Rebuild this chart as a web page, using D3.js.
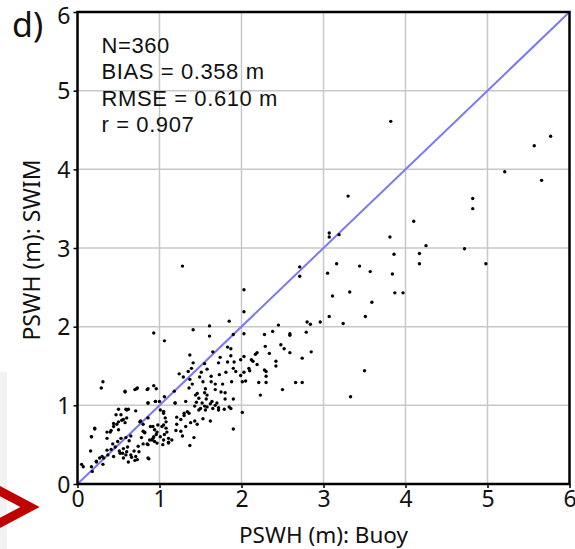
<!DOCTYPE html>
<html>
<head>
<meta charset="utf-8">
<script src="https://cdn.jsdelivr.net/npm/d3@7"></script>
<style>
  body { margin: 0; background: #fff; }
  text { font-family: "Comic Sans MS", "Noto Sans", sans-serif; fill: #111; }
  text.stat { font-family: "Comic Sans MS", "Liberation Sans", sans-serif; }
</style>
</head>
<body>
<div id="chart"></div>
<script>
var svgWidth = 575;
var svgHeight = 549;

// Plot frame in pixels
var margin = { top: 12, right: 5.5, bottom: 65, left: 77.5 };
var width = svgWidth - margin.left - margin.right;
var height = svgHeight - margin.top - margin.bottom;

var tickValues = [0, 1, 2, 3, 4, 5, 6];
var statLines = ["N=360", "BIAS = 0.358 m", "RMSE = 0.610 m", "r = 0.907"];

// Buoy PSWH (x) and SWIM PSWH (y)
var buoy = [
  3.82,5.77,5.57,5.21,5.66,3.30,4.82,4.82,4.10,3.07,3.07,3.19,3.81,4.25,4.72,4.17,3.86,4.17,4.98,3.16,
  3.44,2.71,2.71,3.57,3.05,3.84,2.03,3.32,3.87,3.97,3.11,3.59,2.03,3.07,3.51,3.24,2.96,2.80,2.84,2.45,
  2.38,2.03,2.79,2.59,2.59,2.28,2.29,2.48,2.52,2.19,2.17,2.34,2.59,2.85,2.74,2.03,2.12,2.14,2.19,2.42,
  2.42,2.09,2.10,2.28,2.30,2.30,2.03,2.05,2.21,2.30,2.66,2.74,3.50,2.50,2.23,3.33,2.01,
  1.28,1.85,0.93,0.31,0.29,0.58,0.70,0.73,0.86,0.93,0.96,0.86,0.95,1.00,
  1.41,1.61,1.06,1.61,1.90,1.83,1.87,1.87,1.65,1.37,1.74,1.55,1.41,1.72,1.83,1.91,1.99,1.58,1.39,1.51,
  1.35,1.24,1.29,1.49,1.63,1.73,1.81,1.90,1.93,1.99,1.37,1.40,1.53,1.63,1.68,1.77,1.88,1.36,1.56,1.68,
  1.18,1.46,1.55,1.75,1.80,2.01,1.44,1.48,1.58,1.57,1.64,1.32,1.19,1.06,1.45,1.52,1.70,1.80,1.90,1.43,1.68,
  0.05,0.07,0.18,0.17,0.16,0.23,0.32,0.31,0.17,0.21,0.36,0.41,0.44,0.48,0.50,0.47,0.53,0.56,0.60,0.58,
  0.50,0.59,0.71,0.77,0.80,0.86,0.92,0.98,0.96,0.92,0.94,0.88,0.82,0.86,0.80,0.74,0.69,0.71,0.75,0.87,
  0.65,0.61,0.63,0.59,0.65,0.53,0.49,0.43,0.46,0.41,0.51,0.55,0.59,0.37,0.27,0.80,0.94,
  1.05,1.07,1.05,1.08,1.06,1.11,1.04,1.11,1.15,1.21,1.21,1.20,1.26,1.26,1.28,1.30,1.32,1.36,1.38,1.43,
  1.46,1.42,1.37,1.53,1.62,1.48,1.56,1.72,1.87,1.90,1.30,1.34,
  1.01,1.05,1.08,1.03,0.97,0.93,1.01,1.09,0.91,0.85,1.05,1.11,0.97,0.89,0.82,0.78,0.86,0.73,0.66,0.60,
  0.56,0.76,0.62,0.60,0.54,0.44,0.50,0.40,0.36,0.21,0.17,0.36,0.30,0.23,0.44,0.52,0.56,0.62,0.70,0.86,
  0.95,0.58,0.72,0.85,1.19,
  1.50,1.58,1.65,1.72,1.79,1.85,1.62,1.55,1.05
];
var swim = [
  4.61,4.42,4.30,3.97,3.86,3.66,3.63,3.50,3.34,3.19,3.14,3.17,3.14,3.03,2.99,2.93,2.92,2.80,2.80,2.80,
  2.77,2.76,2.64,2.70,2.68,2.67,2.47,2.44,2.43,2.43,2.39,2.31,2.19,2.13,2.13,2.04,2.06,2.06,2.03,2.02,
  1.94,1.91,1.93,1.91,1.89,1.90,1.75,1.77,1.72,1.67,1.65,1.66,1.67,1.68,1.60,1.62,1.58,1.56,1.52,1.56,
  1.50,1.47,1.44,1.45,1.43,1.37,1.42,1.31,1.29,1.29,1.29,1.29,1.44,1.20,1.13,1.11,0.91,
  2.77,2.07,1.92,1.30,1.22,1.18,1.20,1.22,1.21,1.25,1.21,1.03,1.05,1.05,
  1.96,2.01,1.82,1.88,1.90,1.74,1.72,1.63,1.68,1.64,1.61,1.53,1.54,1.54,1.55,1.55,1.58,1.46,1.47,1.42,
  1.43,1.40,1.36,1.36,1.37,1.39,1.42,1.47,1.43,1.38,1.33,1.27,1.30,1.30,1.27,1.27,1.30,1.22,1.21,1.20,
  1.18,1.15,1.16,1.17,1.16,1.30,1.13,1.09,1.13,1.08,1.05,1.05,1.03,1.11,1.04,1.03,1.03,1.08,1.08,0.99,1.00,
  0.25,0.22,0.16,0.22,0.42,0.29,0.33,0.25,0.60,0.70,0.66,0.68,0.73,0.76,0.79,0.88,0.88,0.82,0.84,0.78,
  0.95,0.95,0.93,0.80,0.76,0.84,0.73,0.75,0.63,0.58,0.54,0.56,0.65,0.50,0.51,0.48,0.42,0.35,0.41,0.32,
  0.37,0.47,0.55,0.59,0.61,0.58,0.54,0.51,0.47,0.44,0.42,0.39,0.37,0.37,0.33,0.67,0.69,
  0.92,0.84,0.75,0.71,0.63,0.58,0.50,0.53,0.56,0.85,0.76,0.68,0.67,0.82,0.61,0.87,0.73,0.90,0.78,0.80,
  0.76,0.59,0.49,0.83,0.80,0.94,0.94,0.94,0.96,0.70,0.90,0.92,
  0.94,0.90,0.79,0.73,0.66,0.60,0.60,0.66,0.56,0.51,0.56,0.52,0.52,0.73,0.66,0.59,0.33,0.31,0.34,0.41,
  0.45,0.79,0.95,0.94,0.81,0.77,0.69,0.66,0.58,0.71,0.60,0.43,0.35,0.28,0.35,0.39,0.33,0.28,0.30,1.03,
  1.05,1.17,1.21,1.20,1.03,
  0.96,0.98,0.96,0.97,0.95,0.98,1.02,0.99,0.92
];

var points = buoy.map(function(b, i) { return { buoy: b, swim: swim[i] }; });

var svg = d3.select("#chart")
  .append("svg")
  .attr("width", svgWidth)
  .attr("height", svgHeight);

// red arrow fragment at lower left (part of the original slide)
svg.append("rect")
  .attr("x", 0).attr("y", 372).attr("width", 7).attr("height", 177)
  .attr("fill", "#f2f2f2");
svg.append("path")
  .attr("d", "M-4,489 L30,507 L-4,525")
  .attr("fill", "none")
  .attr("stroke", "#c00000")
  .attr("stroke-width", 9);

var chartGroup = svg.append("g")
  .attr("transform", `translate(${margin.left}, ${margin.top})`);

var xScale = d3.scaleLinear().domain([0, 6]).range([0, width]);
var yScale = d3.scaleLinear().domain([0, 6]).range([height, 0]);

// grid
chartGroup.append("g")
  .selectAll("line.vx")
  .data(tickValues.slice(1, -1))
  .enter().append("line")
  .attr("x1", d => xScale(d)).attr("x2", d => xScale(d))
  .attr("y1", 0).attr("y2", height)
  .attr("stroke", "#c8c8c8").attr("stroke-width", 1.5);

chartGroup.append("g")
  .selectAll("line.hy")
  .data(tickValues.slice(1, -1))
  .enter().append("line")
  .attr("x1", 0).attr("x2", width)
  .attr("y1", d => yScale(d)).attr("y2", d => yScale(d))
  .attr("stroke", "#c8c8c8").attr("stroke-width", 1.5);

// 1:1 line
chartGroup.append("line")
  .attr("x1", xScale(0)).attr("y1", yScale(0))
  .attr("x2", xScale(6)).attr("y2", yScale(6))
  .attr("stroke", "#7a7af5").attr("stroke-width", 2);

// points
chartGroup.selectAll("circle")
  .data(points)
  .enter().append("circle")
  .attr("cx", d => xScale(d.buoy))
  .attr("cy", d => yScale(d.swim))
  .attr("r", 1.7)
  .attr("fill", "#000");

// axes
var bottomAxis = d3.axisBottom(xScale).tickValues(tickValues).tickFormat(d3.format("d"))
  .tickSize(4).tickPadding(3);
var leftAxis = d3.axisLeft(yScale).tickValues(tickValues).tickFormat(d3.format("d"))
  .tickSize(4).tickPadding(3);

var xAxisG = chartGroup.append("g")
  .attr("transform", `translate(0, ${height})`)
  .call(bottomAxis);
var yAxisG = chartGroup.append("g").call(leftAxis);

[xAxisG, yAxisG].forEach(function(g) {
  g.select(".domain").remove();
  g.selectAll(".tick line").attr("stroke", "#000").attr("stroke-width", 1.5);
  g.selectAll("text").style("font-size", "23px").attr("fill", "#111");
});
yAxisG.selectAll("text").attr("dy", "0.36em");
yAxisG.selectAll(".tick").filter(d => d === 6).select("text").attr("dy", "0.5em");

// frame
chartGroup.append("rect")
  .attr("width", width).attr("height", height)
  .attr("fill", "none")
  .attr("stroke", "#000").attr("stroke-width", 2.5);

// stats
chartGroup.append("g")
  .selectAll("text")
  .data(statLines)
  .enter().append("text")
  .attr("class", "stat")
  .attr("x", 24)
  .attr("y", (d, i) => 41 + i * 26.3)
  .style("font-size", "22px")
  .style("letter-spacing", "0.6px")
  .text(d => d);

// panel label
svg.append("text")
  .attr("x", 12).attr("y", 37)
  .style("font-size", "34px")
  .text("d)");

// axis titles
svg.append("text")
  .attr("x", margin.left + width / 2)
  .attr("y", 543)
  .attr("text-anchor", "middle")
  .style("font-size", "22.5px")
  .text("PSWH (m): Buoy");

svg.append("text")
  .attr("transform", `translate(40, ${margin.top + height / 2 + 2}) rotate(-90)`)
  .attr("text-anchor", "middle")
  .style("font-size", "23px")
  .text("PSWH (m): SWIM");
</script>
</body>
</html>
